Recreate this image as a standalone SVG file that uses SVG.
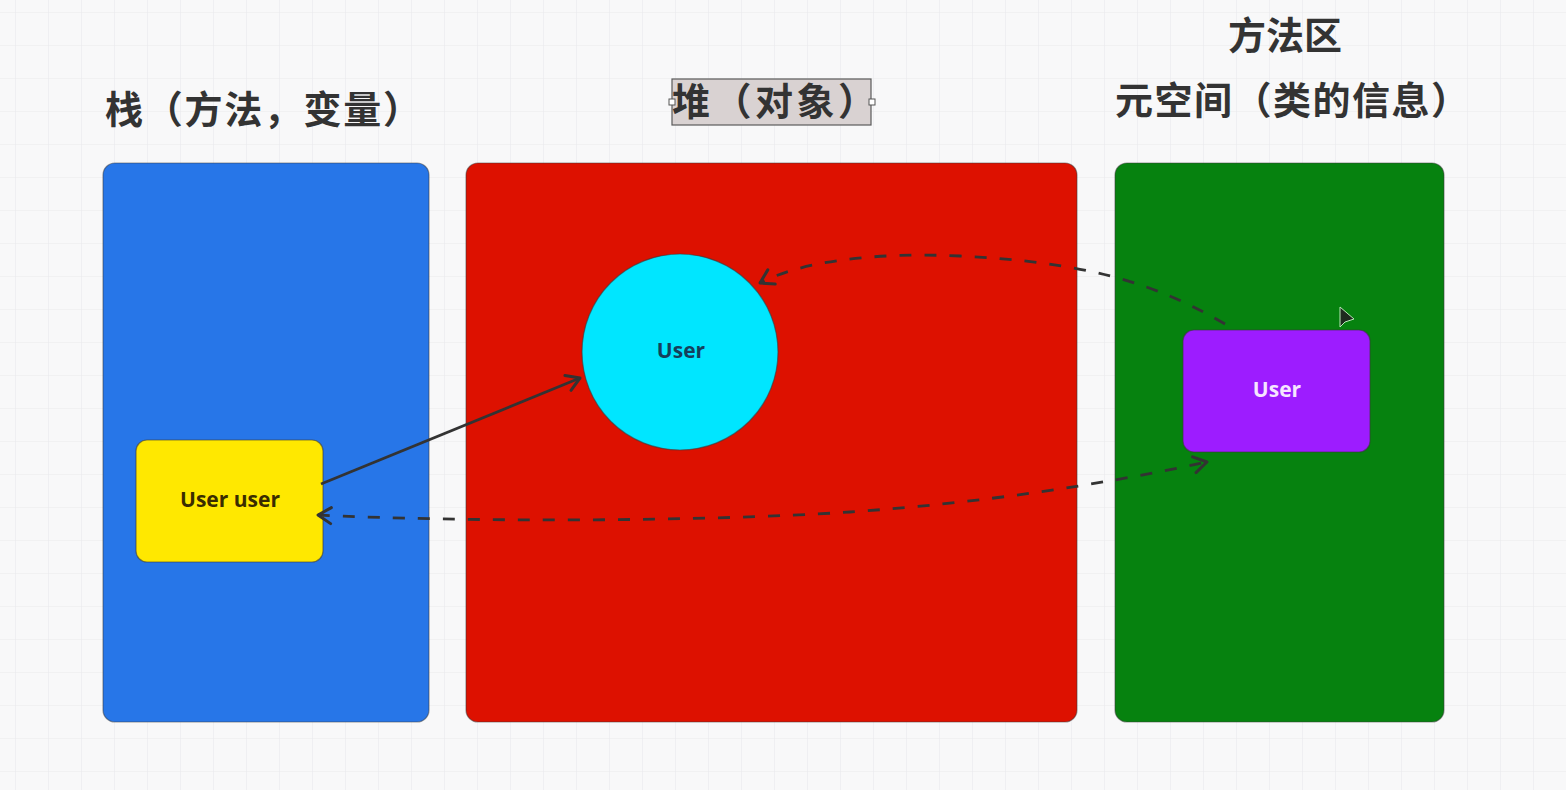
<svg xmlns="http://www.w3.org/2000/svg" width="1566" height="790" viewBox="0 0 1566 790">
<defs>
<pattern id="grid" width="33" height="33" patternUnits="userSpaceOnUse" x="15" y="12">
<path d="M0 0H33M0 0V33" fill="none" stroke="#e9e9ec" stroke-width="1.2"/>
</pattern>
<marker id="open" viewBox="0 0 20 20" refX="16" refY="10" markerWidth="20" markerHeight="20" markerUnits="userSpaceOnUse" orient="auto-start-reverse">
<path d="M3 2L16 10L3 18" fill="none" stroke="#333" stroke-width="3" stroke-linecap="round" stroke-linejoin="round"/>
</marker>
<style>
.title{font-family:"Noto Sans CJK SC","Noto Sans",sans-serif;font-weight:700;fill:#333;font-size:38px}
.panel{stroke:#3a3a3a;stroke-width:1.2;stroke-opacity:.5}
.lbl{font-family:"Open Sans","Noto Sans",sans-serif;font-weight:700;font-size:21px;text-anchor:middle;dominant-baseline:central}
.conn{fill:none;stroke:#333;stroke-width:2.8}
.dash{stroke-dasharray:12 13}
</style>
</defs>
<rect width="1566" height="790" fill="#f8f8f9"/>
<rect width="1566" height="790" fill="url(#grid)"/>

<g id="title-stack"><text class="title" x="105" y="123" textLength="316" lengthAdjust="spacing">栈（方法，变量）</text></g>
<g id="title-heap">
<rect x="672" y="79" width="199" height="46" fill="#d9d2d2" stroke="#5a5a5a" stroke-width="1.2"/>
<rect x="669" y="99" width="6" height="6" fill="#fff" stroke="#555" stroke-width="1"/>
<rect x="869" y="99" width="6" height="6" fill="#fff" stroke="#555" stroke-width="1"/>
<text class="title" x="672" y="115" textLength="204" lengthAdjust="spacing">堆（对象）</text>
</g>
<g id="title-method">
<text class="title" x="1285" y="49" text-anchor="middle" font-size="39">方法区</text>
<text class="title" x="1115" y="114" textLength="354" lengthAdjust="spacing">元空间（类的信息）</text>
</g>

<g id="stack"><rect class="panel" x="103" y="163" width="326" height="559" rx="12" fill="#2776e8"/></g>
<g id="heap"><rect class="panel" x="466" y="163" width="611" height="559" rx="12" fill="#dd1100"/></g>
<g id="method-area"><rect class="panel" x="1115" y="163" width="329" height="559" rx="12" fill="#06820f"/></g>

<g id="user-var">
<rect x="136" y="440" width="187" height="122" rx="11" fill="#ffe800" stroke="#3a3a3a" stroke-width="1.2" stroke-opacity=".6"/>
<text class="lbl" x="230" y="499" fill="#3a2c00">User user</text>
</g>
<g id="user-obj">
<circle cx="680" cy="352" r="98" fill="#00e6ff" stroke="#3a3a3a" stroke-width="1.2" stroke-opacity=".6"/>
<text class="lbl" x="681" y="350" fill="#153f5c">User</text>
</g>
<g id="user-class">
<rect x="1183" y="330" width="187" height="122" rx="11" fill="#9d1cff" stroke="#3a3a3a" stroke-width="1.2" stroke-opacity=".6"/>
<text class="lbl" x="1277" y="389" fill="#f6e6ff">User</text>
</g>

<g id="connectors">
<path class="conn" d="M321 484L580 378" marker-end="url(#open)"/>
<path class="conn dash" d="M1225 324C1150 280 1080 262 960 256C870 252 800 262 760 283" marker-end="url(#open)"/>
<path class="conn dash" d="M318 515C460 522 700 522 850 512C980 503 1100 485 1207 462" marker-start="url(#open)" marker-end="url(#open)"/>
</g>

<g id="cursor"><path d="M1340 307L1340 327L1345 322L1354 319Z" fill="#1e2a1e" stroke="#b8e8b8" stroke-width="1"/></g>
</svg>
